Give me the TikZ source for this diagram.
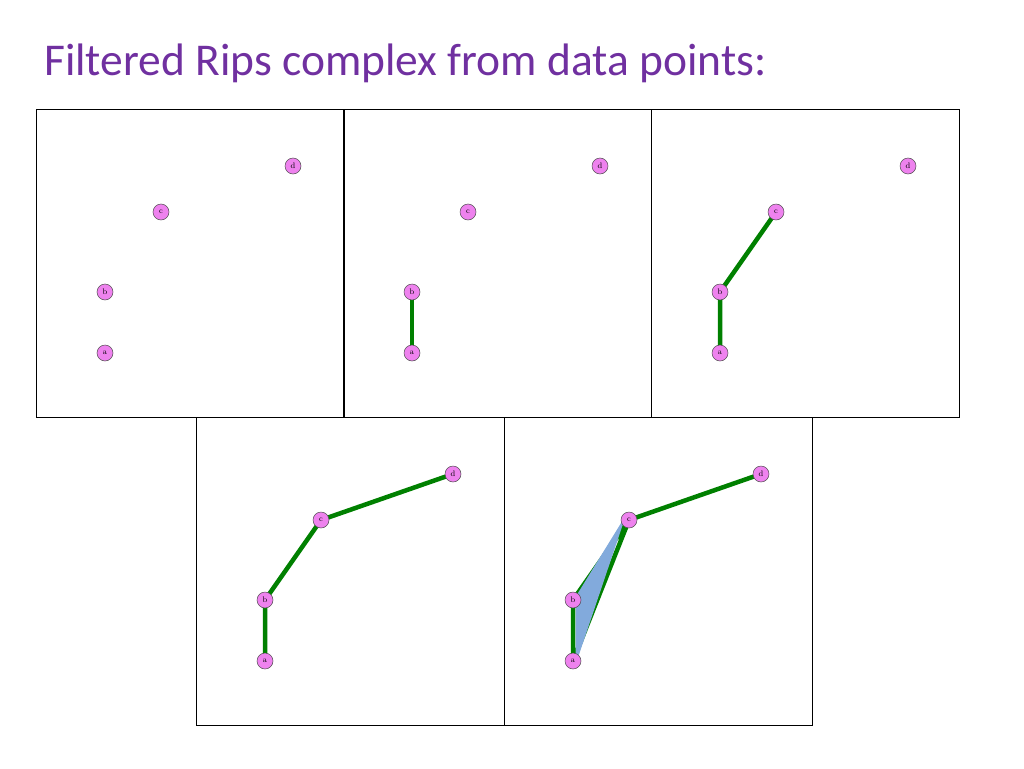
\documentclass[tikz,border=0pt]{standalone}
\usepackage{fontspec}
\newfontfamily\titlefont{Carlito}
\definecolor{ttl}{RGB}{112,48,160}
\definecolor{vio}{RGB}{238,130,238}
\definecolor{edg}{RGB}{0,128,0}
\definecolor{tri}{RGB}{130,170,220}
\begin{document}
\begin{tikzpicture}[x=1pt,y=-1pt,
  pt/.style={circle,draw=black!70,line width=0.5pt,fill=vio,minimum size=16pt,inner sep=0pt,font=\fontsize{8}{8}\selectfont},
  ed/.style={edg,line width=4.5pt},
  panel/.style={draw,line width=0.8pt}]
\useasboundingbox (0,0) rectangle (1024,768);
\node[anchor=base west,text=ttl,font=\titlefont\fontsize{45.5}{48}\selectfont,inner sep=0pt] (title) at (44,75) {Filtered Rips complex from data points:};
\foreach \n/\x/\y in {1/36/109,2/343/109,3/651/109,4/196/417,5/504/417}{
  \draw[panel] (\x,\y) rectangle ++(308,308);
  \coordinate (d\n) at (\x+257,\y+57);
  \coordinate (c\n) at (\x+125,\y+103);
  \coordinate (b\n) at (\x+69,\y+183);
  \coordinate (a\n) at (\x+69,\y+244);
}
\draw[ed] (a2)--(b2);
\draw[ed] (a3)--(b3)--(c3);
\draw[ed] (a4)--(b4)--(c4)--(d4);
\draw[ed] (a5)--(b5)--(c5)--(d5) (a5)--(c5);
\fill[tri] ([xshift=2.5pt,yshift=-4pt]a5) -- ([xshift=2.5pt,yshift=3pt]b5) -- ([xshift=-3pt,yshift=5pt]c5) -- cycle;
\foreach \n in {1,...,5}{
  \node[pt] (nd\n) at (d\n) {d};
  \node[pt] (nc\n) at (c\n) {c};
  \node[pt] (nb\n) at (b\n) {b};
  \node[pt] (na\n) at (a\n) {a};
}
\end{tikzpicture}
\end{document}
